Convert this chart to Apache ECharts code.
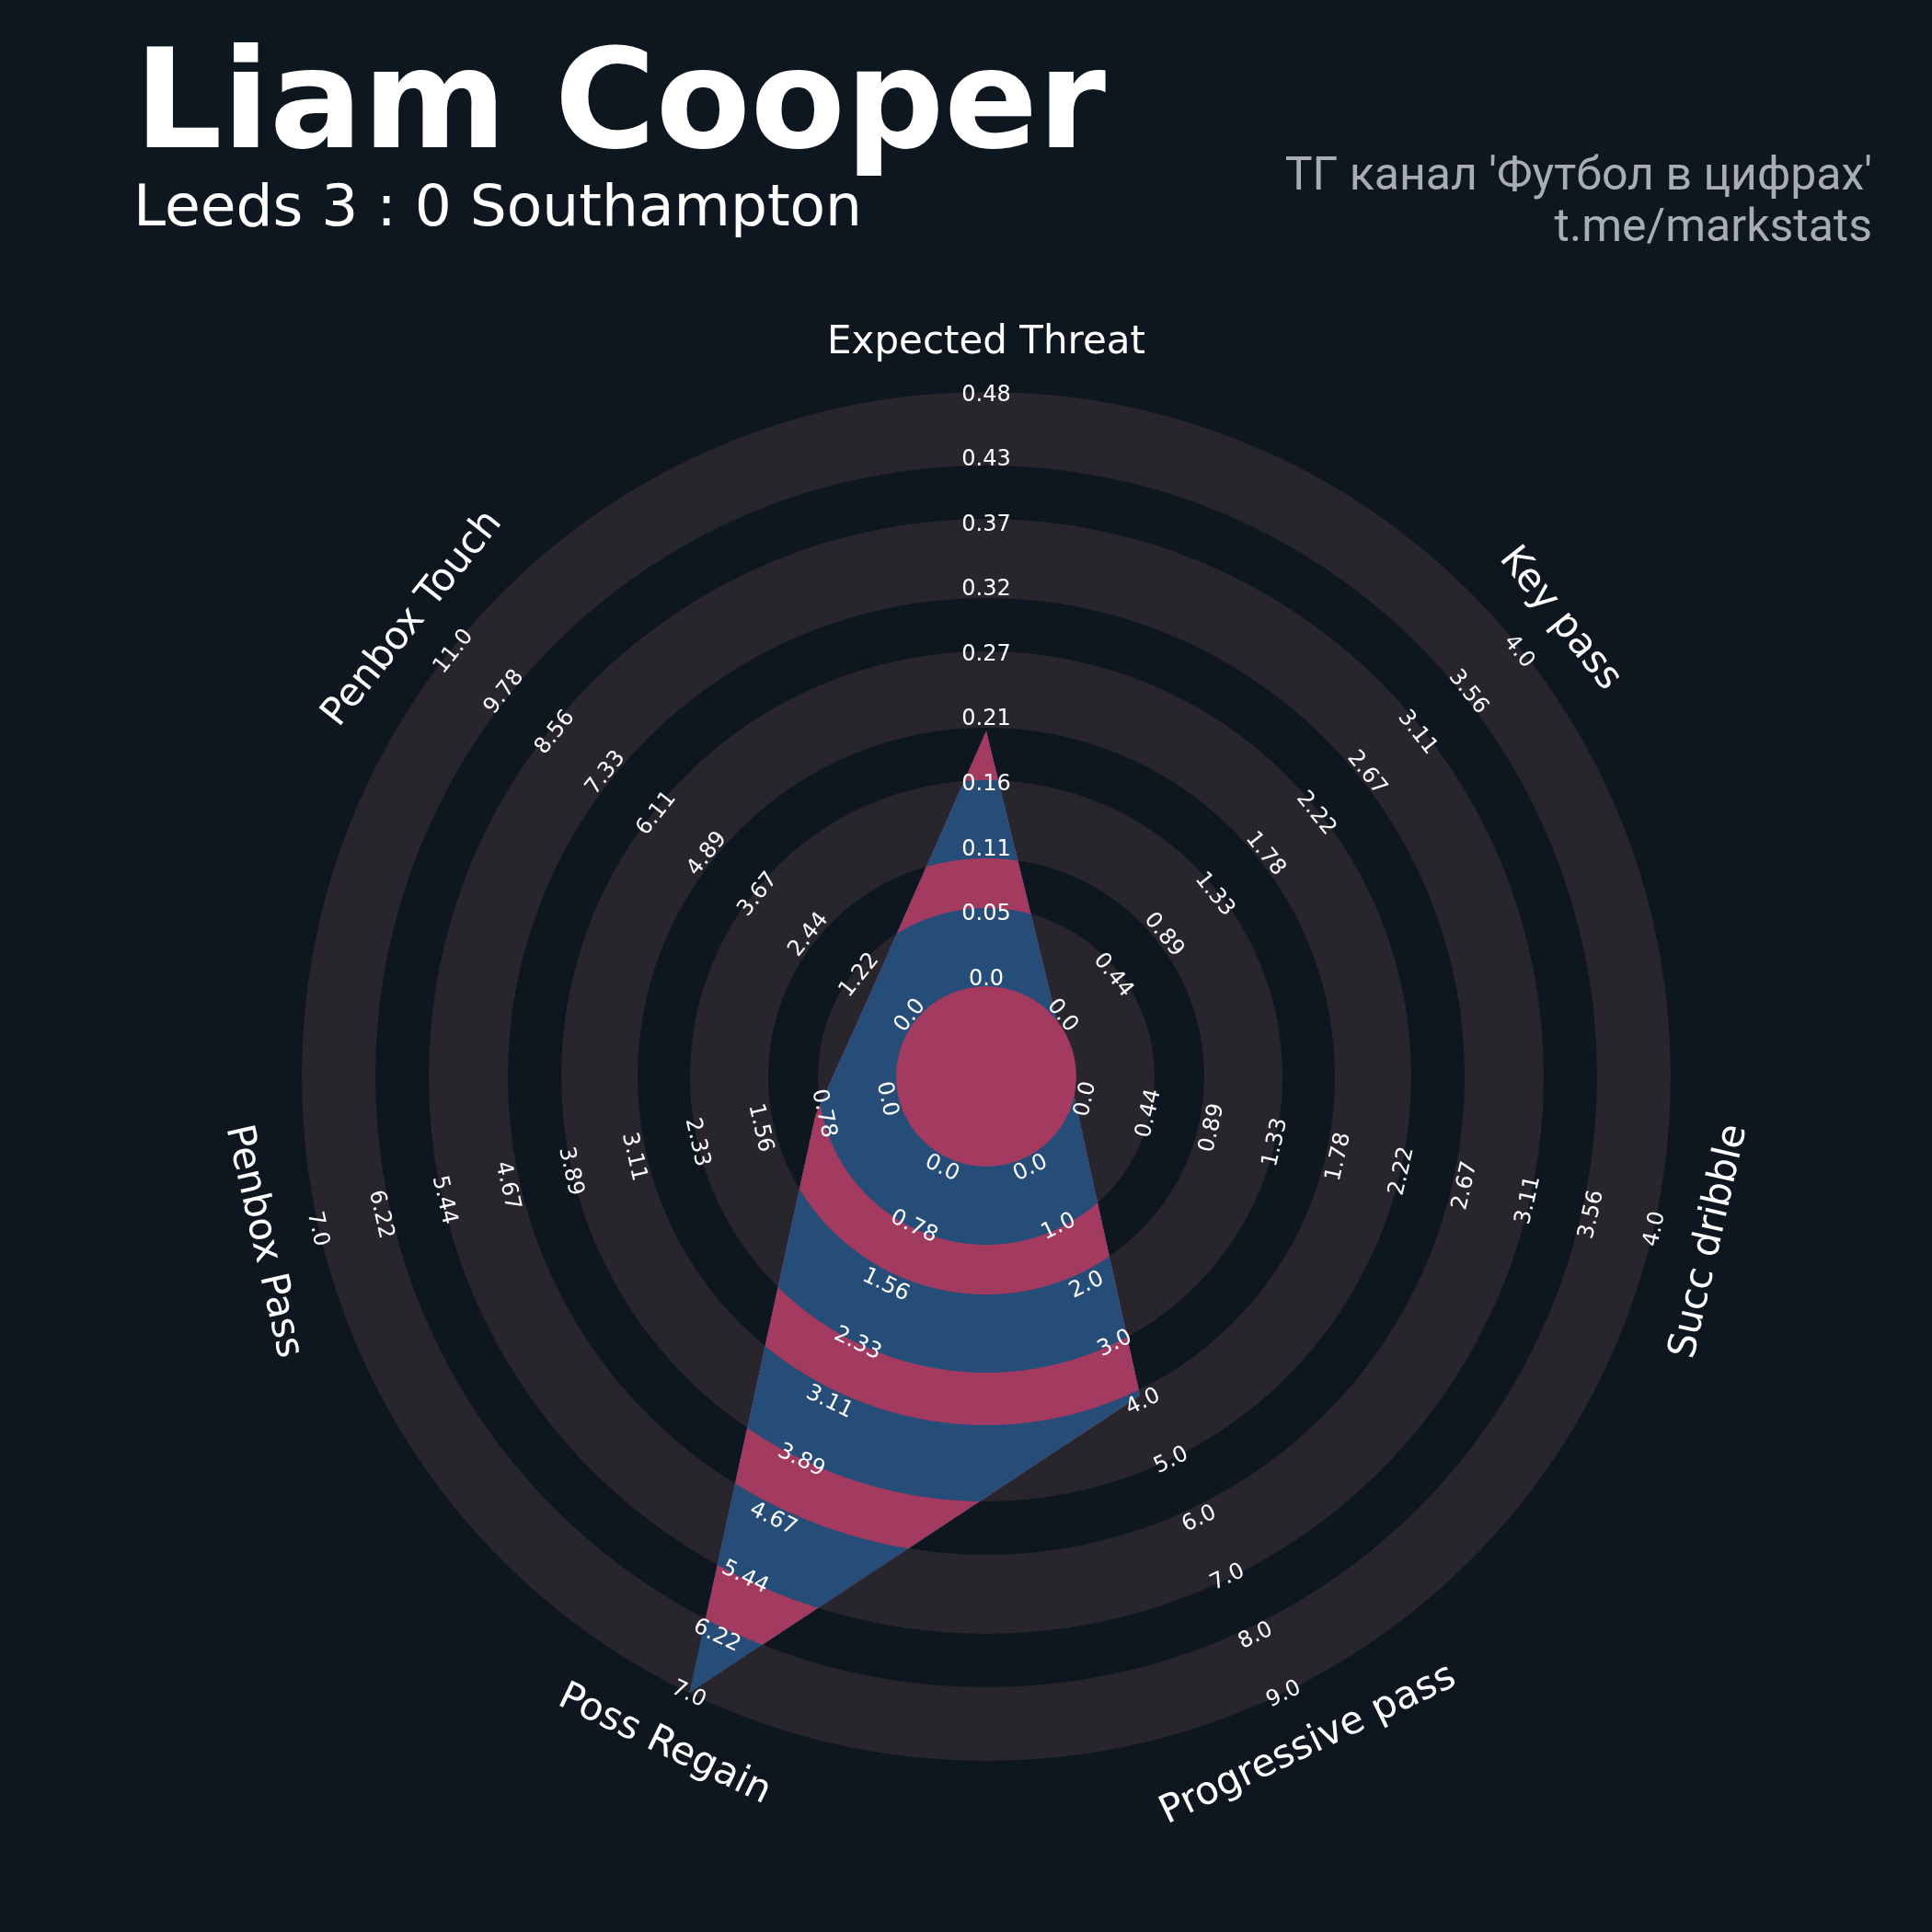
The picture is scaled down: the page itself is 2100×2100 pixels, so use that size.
<!DOCTYPE html>
<html>
<head>
<meta charset="utf-8">
<script src="https://cdn.jsdelivr.net/npm/echarts@6/dist/echarts.min.js"></script>
<style>
html,body{margin:0;padding:0;background:#0e1720;}
#chart{width:2100px;height:2100px;}
</style>
</head>
<body>
<div id="chart"></div>
<script>
// ---------- data ----------
const params = ['Expected Threat', 'Key pass', 'Succ dribble', 'Progressive pass', 'Poss Regain', 'Penbox Pass', 'Penbox Touch'];
const values = [0.206, 0, 0, 4, 7, 1, 1];
const lows   = [0, 0, 0, 0, 0, 0, 0];
const highs  = [0.48, 4, 4, 9, 7, 7, 11];

const xtTicks       = ['0.0', '0.05', '0.11', '0.16', '0.21', '0.27', '0.32', '0.37', '0.43', '0.48'];
const keyPassTicks  = ['0.0', '0.44', '0.89', '1.33', '1.78', '2.22', '2.67', '3.11', '3.56', '4.0'];
const dribbleTicks  = ['0.0', '0.44', '0.89', '1.33', '1.78', '2.22', '2.67', '3.11', '3.56', '4.0'];
const progTicks     = ['0.0', '1.0', '2.0', '3.0', '4.0', '5.0', '6.0', '7.0', '8.0', '9.0'];
const regainTicks   = ['0.0', '0.78', '1.56', '2.33', '3.11', '3.89', '4.67', '5.44', '6.22', '7.0'];
const penPassTicks  = ['0.0', '0.78', '1.56', '2.33', '3.11', '3.89', '4.67', '5.44', '6.22', '7.0'];
const penTouchTicks = ['0.0', '1.22', '2.44', '3.67', '4.89', '6.11', '7.33', '8.56', '9.78', '11.0'];
const tickLabels = [xtTicks, keyPassTicks, dribbleTicks, progTicks, regainTicks, penPassTicks, penTouchTicks];

const titleText = 'Liam Cooper';
const subtitleText = 'Leeds 3 : 0 Southampton';
const creditLines = ["ТГ канал 'Футбол в цифрах'", 't.me/markstats'];

// ---------- layout / style ----------
const BG = '#0e1720';
const RING = '#28252d';
const PINK = '#a33a60';
const BLUE = '#264c78';
const OUTER_PX = 744;
const ringEdgesPx = [98, 183, 237, 322, 379, 462, 520, 606, 664, 744];
const INNER_FRAC = ringEdgesPx[0] / OUTER_PX;
const LABEL_R0 = 108.3 / OUTER_PX, LABEL_R1 = 743 / OUTER_PX;
const PARAM_R = 802 / OUTER_PX;
const FONT = '"DejaVu Sans", sans-serif';
const RANGE_FS = 24, PARAM_FS = 42;

function angleOf(i) { return i * 360 / params.length; }
function frac(i, v) { return INNER_FRAC + (v - lows[i]) / (highs[i] - lows[i]) * (1 - INNER_FRAC); }
function rotFor(deg) {
  const r = (deg <= 90 || deg >= 270) ? -deg : 180 - deg;
  return r * Math.PI / 180;
}
function geom(api) {
  const c = api.coord([0, 0]);
  const pxR = f => { const p = api.coord([f, 0]); return Math.hypot(p[0] - c[0], p[1] - c[1]); };
  return { c, pxR };
}

const chart = echarts.init(document.getElementById('chart'), null, { renderer: 'canvas' });

const option = {
  backgroundColor: BG,
  animation: false,
  polar: { center: [1072, 1170], radius: OUTER_PX },
  angleAxis: {
    type: 'value', min: 0, max: 360, startAngle: 90, clockwise: true,
    axisLine: { show: false }, axisTick: { show: false }, axisLabel: { show: false },
    splitLine: { show: false }, splitArea: { show: false }
  },
  radiusAxis: {
    type: 'value', min: 0, max: 1,
    axisLine: { show: false }, axisTick: { show: false }, axisLabel: { show: false },
    splitLine: { show: false }, splitArea: { show: false }
  },
  graphic: [
    { type: 'text', x: 146, y: 121, style: { text: titleText, fill: '#ffffff', font: 'bold 150px ' + FONT, align: 'left', verticalAlign: 'middle' } },
    { type: 'text', x: 145, y: 229, style: { text: subtitleText, fill: '#ffffff', font: '63px ' + FONT, align: 'left', verticalAlign: 'middle' } },
    { type: 'text', x: 2035, y: 193, style: { text: creditLines[0], fill: '#a9adb2', font: '50px Roboto', align: 'right', verticalAlign: 'middle' } },
    { type: 'text', x: 2035, y: 249, style: { text: creditLines[1], fill: '#a9adb2', font: '50px Roboto', align: 'right', verticalAlign: 'middle' } }
  ],
  series: [
    {
      type: 'custom', name: 'rings', coordinateSystem: 'polar', silent: true,
      data: [[0, 0]],
      renderItem: function (p, api) {
        const { c, pxR } = geom(api);
        const children = [];
        for (let j = 0; j < ringEdgesPx.length - 1; j += 2) {
          children.push({
            type: 'ring',
            shape: { cx: c[0], cy: c[1], r0: pxR(ringEdgesPx[j] / OUTER_PX), r: pxR(ringEdgesPx[j + 1] / OUTER_PX) },
            style: { fill: RING }
          });
        }
        return { type: 'group', children };
      }
    },
    {
      type: 'custom', name: 'radar', coordinateSystem: 'polar', silent: true,
      data: [[0, 0]],
      renderItem: function (p, api) {
        const { c, pxR } = geom(api);
        const verts = values.map((v, i) => api.coord([frac(i, v), angleOf(i)]));
        const pts = [];
        const N = 400;
        for (let i = 0; i < verts.length; i++) {
          const a = verts[i], b = verts[(i + 1) % verts.length];
          for (let s = 0; s < N; s++) {
            const t = s / N;
            pts.push([a[0] + (b[0] - a[0]) * t, a[1] + (b[1] - a[1]) * t]);
          }
        }
        const clipTo = rc => pts.map(q => {
          const dx = q[0] - c[0], dy = q[1] - c[1];
          const d = Math.hypot(dx, dy);
          if (d <= rc) return q;
          return [c[0] + dx / d * rc, c[1] + dy / d * rc];
        });
        const children = [];
        for (let j = ringEdgesPx.length - 2; j >= 0; j--) {
          children.push({
            type: 'polygon',
            shape: { points: clipTo(pxR(ringEdgesPx[j + 1] / OUTER_PX)) },
            style: { fill: j % 2 === 0 ? BLUE : PINK }
          });
        }
        children.push({ type: 'circle', shape: { cx: c[0], cy: c[1], r: pxR(INNER_FRAC) }, style: { fill: PINK } });
        return { type: 'group', children };
      }
    },
    {
      type: 'custom', name: 'labels', coordinateSystem: 'polar', silent: true,
      data: [[0, 0]],
      renderItem: function (p, api) {
        const children = [];
        const place = (q, rot, text, fs) => {
          const d = 0.11 * fs; // shift text down in its own frame so the glyphs are centred
          children.push({
            type: 'text', x: q[0] + d * Math.sin(rot), y: q[1] + d * Math.cos(rot), rotation: rot,
            style: { text: text, fill: '#ffffff', font: fs + 'px ' + FONT, align: 'center', verticalAlign: 'middle' }
          });
        };
        params.forEach((name, i) => {
          const ang = angleOf(i);
          const rot = rotFor(ang);
          const ticks = tickLabels[i];
          ticks.forEach((t, k) => {
            const f = LABEL_R0 + (LABEL_R1 - LABEL_R0) * k / (ticks.length - 1);
            place(api.coord([f, ang]), rot, t, RANGE_FS);
          });
          place(api.coord([PARAM_R, ang]), rot, name, PARAM_FS);
        });
        return { type: 'group', children };
      }
    }
  ]
};
chart.setOption(option);
</script>
</body>
</html>
